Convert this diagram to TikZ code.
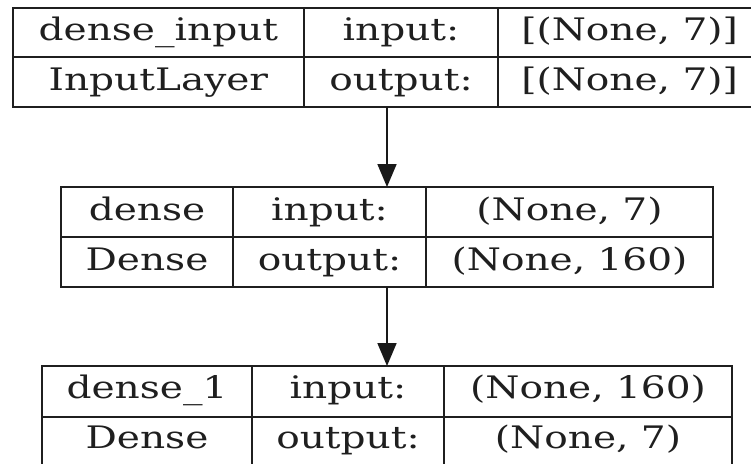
\documentclass[tikz,border=0pt]{standalone}
\usepackage{fontspec}
\setmainfont[FakeStretch=1.26]{DejaVu Serif}
\usetikzlibrary{arrows.meta}
\begin{document}
\begin{tikzpicture}[x=1pt,y=-1pt,
  frame/.style={draw=black!88, line width=1.8pt, inner sep=0pt, outer sep=0pt},
  lbl/.style={anchor=base, inner sep=0pt, font=\fontsize{31}{37}\selectfont, text=black!88},
  sep/.style={draw=black!88, line width=1.8pt},
  arr/.style={draw=black!90, line width=1.8pt, -{Triangle[length=23pt,width=19pt]}}]
\useasboundingbox (0,0) rectangle (751,463);
\clip (0,0) rectangle (751,463);
\fill[white] (0,0) rectangle (751,463);
% layer 1
\node[frame, minimum width=748.6pt, minimum height=99pt] (b1) at (387,57.2) {};
\draw[sep] (12.7,57.3) -- (761.3,57.3);
\draw[sep] (304,7.7) -- (304,106.7);
\draw[sep] (498,7.7) -- (498,106.7);
\node[lbl] (t1a) at (158.4,40.7) {dense\_input};
\node[lbl] (t1b) at (401,40.7) {input:};
\node[lbl] (t1c) at (629.6,40.7) {[(None, 7)]};
\node[lbl] (t1d) at (158.4,90.5) {InputLayer};
\node[lbl] (t1e) at (401,90.5) {output:};
\node[lbl] (t1f) at (629.6,90.5) {[(None, 7)]};
% layer 2
\node[frame, minimum width=652pt, minimum height=100pt] (b2) at (387,237) {};
\draw[sep] (61,237) -- (713,237);
\draw[sep] (233,187) -- (233,287);
\draw[sep] (426,187) -- (426,287);
\node[lbl] (t2a) at (147,220) {dense};
\node[lbl] (t2b) at (329.5,220) {input:};
\node[lbl] (t2c) at (569.5,220) {(None, 7)};
\node[lbl] (t2d) at (147,270) {Dense};
\node[lbl] (t2e) at (329.5,270) {output:};
\node[lbl] (t2f) at (569.5,270) {(None, 160)};
% layer 3
\node[frame, minimum width=690pt, minimum height=101pt] (b3) at (387,416.5) {};
\draw[sep] (42,417) -- (732,417);
\draw[sep] (252,366) -- (252,467);
\draw[sep] (444,366) -- (444,467);
\node[lbl] (t3a) at (147,398) {dense\_1};
\node[lbl] (t3b) at (348,398) {input:};
\node[lbl] (t3c) at (588,398) {(None, 160)};
\node[lbl] (t3d) at (147,448) {Dense};
\node[lbl] (t3e) at (348,448) {output:};
\node[lbl] (t3f) at (588,448) {(None, 7)};
% connectors
\draw[arr] (b1.south) -- (b2.north);
\draw[arr] (b2.south) -- (b3.north);
\end{tikzpicture}
\end{document}
